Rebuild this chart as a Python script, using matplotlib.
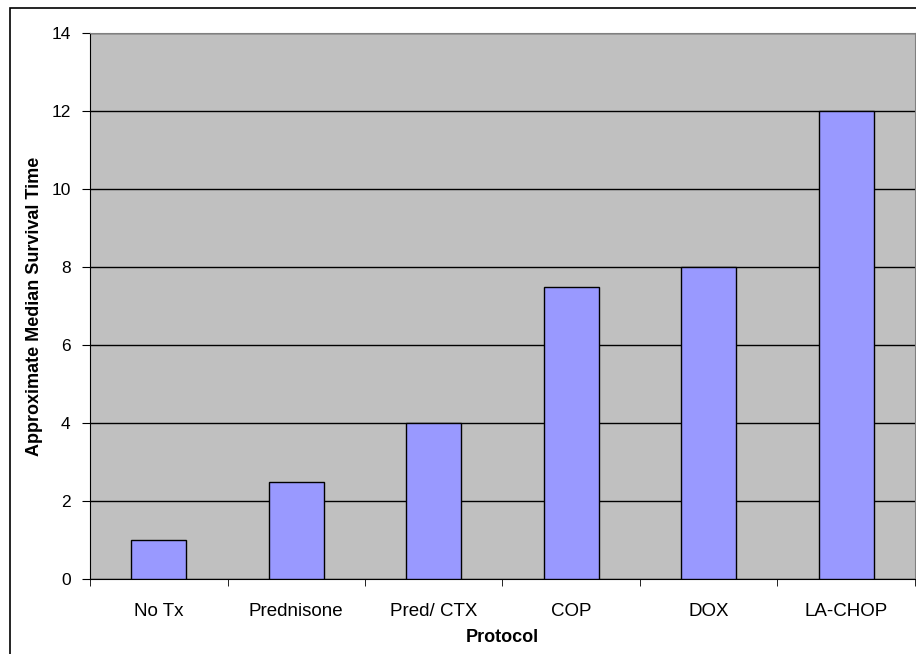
import matplotlib
matplotlib.use("Agg")
import matplotlib.pyplot as plt
from matplotlib.patches import Rectangle

plt.rcParams["font.family"] = ["Liberation Sans", "DejaVu Sans"]

protocols = ["No Tx", "Prednisone", "Pred/ CTX", "COP", "DOX", "LA-CHOP"]
survival = [1, 2.5, 4, 7.5, 8, 12]
y_ticks = [0, 2, 4, 6, 8, 10, 12, 14]

W, H = 916, 654
fig = plt.figure(figsize=(W / 100, H / 100), dpi=100)
fig.patch.set_facecolor("white")

# outer chart frame (cut off at right and bottom edges)
fig.patches.append(Rectangle((10 / W, -0.05), 1.1, (H - 8) / H + 0.05,
                             transform=fig.transFigure, fill=False,
                             edgecolor="black", linewidth=1.2))

ax = fig.add_axes([90 / W, (H - 579) / H, 825 / W, 546 / H])
ax.set_facecolor("#C0C0C0")

x = range(len(protocols))
ax.bar(x, survival, width=0.4, color="#9999FF", edgecolor="black",
       linewidth=1.0, zorder=3)

ax.set_xlim(-0.5, len(protocols) - 0.5)
ax.set_ylim(0, 14)
ax.set_yticks(y_ticks)
ax.set_xticks(x)
ax.set_xticklabels(protocols)
ax.set_xticks([i + 0.5 for i in range(-1, len(protocols))], minor=True)
ax.tick_params(axis="x", which="major", length=0, pad=17, labelsize=13.5)
ax.tick_params(axis="x", which="minor", length=5, direction="out", color="black")
ax.tick_params(axis="y", length=6, direction="out", pad=8, labelsize=12.5)

ax.yaxis.grid(True, color="black", linewidth=1.0, zorder=1)
ax.set_axisbelow(True)

ax.spines["top"].set_color("#808080")
ax.spines["right"].set_color("#808080")
ax.spines["left"].set_color("black")
ax.spines["bottom"].set_color("black")

ax.set_xlabel("Protocol", fontsize=13, fontweight="bold", labelpad=7)
ax.set_ylabel("Approximate Median Survival Time", fontsize=13,
              fontweight="bold")
ax.yaxis.set_label_coords(-0.057, 0.5)

fig.savefig("out.png", dpi=100, facecolor=fig.get_facecolor())
